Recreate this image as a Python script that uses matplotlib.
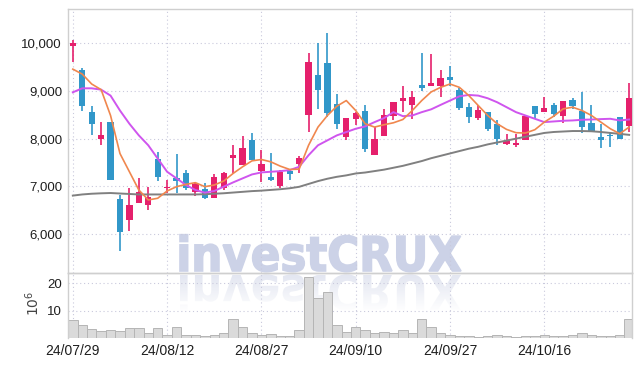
import numpy as np
import matplotlib
matplotlib.use("Agg")
import matplotlib.pyplot as plt
from matplotlib.textpath import TextPath
from matplotlib.patches import PathPatch
from matplotlib.font_manager import FontProperties
import matplotlib.transforms as mtransforms

# --- datos (60 sesiones) ---
opens = [9940, 9440, 8560, 7990, 8350, 6730, 6300, 6650, 6610, 7580,
         6960, 7180, 7270, 6875, 6940, 6765, 6975, 7600, 7444, 7965,
         7320, 7187, 7014, 7320, 7465, 8486, 9333, 9583, 8729, 8035,
         8402, 8577, 7667, 8049, 8472, 8785, 8708, 9125, 9111, 9111,
         9298, 9028, 8673, 8437, 8569, 8312, 7896, 7861, 7965, 8694,
         8556, 8708, 8472, 8812, 8577, 8326, 8035, 8069, 8452, 8257]
highs = [10060, 9490, 8690, 8350, 8350, 6820, 6960, 7170, 6990, 7720,
         7130, 7670, 7350, 7100, 7080, 7250, 7300, 7875, 8056, 8125,
         7756, 7702, 7350, 7370, 7640, 9806, 10014, 10222, 8938, 8437,
         8550, 8708, 8243, 8625, 8764, 9097, 9000, 9806, 9771, 9444,
         9514, 9070, 8750, 8700, 8569, 8396, 8104, 8104, 8465, 8694,
         8868, 8750, 8785, 8850, 8972, 8715, 8300, 8140, 8452, 9167]
lows = [9600, 8590, 8070, 7860, 7130, 5640, 6060, 6650, 6500, 7110,
        6850, 6850, 6920, 6800, 6740, 6765, 6920, 7270, 7444, 7550,
        7098, 7110, 6960, 7135, 7271, 8139, 8625, 8452, 8208, 7965,
        8277, 7723, 7667, 8049, 8382, 8556, 8420, 9006, 9111, 8868,
        9111, 8600, 8326, 8400, 8160, 7861, 7861, 7827, 7965, 8402,
        8556, 8450, 8333, 8625, 8118, 8153, 7806, 7820, 7986, 8139]
closes = [10000, 8690, 8300, 8080, 7130, 6040, 6600, 6875, 6785, 7190,
          6990, 7110, 6975, 7040, 6750, 7200, 7270, 7667, 7812, 7550,
          7465, 7132, 7292, 7256, 7597, 9618, 9028, 8542, 8313, 8437,
          8542, 7792, 8000, 8486, 8764, 8854, 8882, 9062, 9167, 9271,
          9236, 8646, 8452, 8604, 8208, 7986, 7944, 7917, 8465, 8521,
          8646, 8521, 8785, 8694, 8243, 8153, 7965, 8049, 7986, 8854]

# medias móviles (5, 20, 60 días), leídas directamente
ma5 = [9458, 9354, 9146, 9028, 8486, 7688, 7306, 6924, 6715, 6750,
       6903, 6993, 7042, 7077, 6993, 7028, 7111, 7271, 7410, 7535,
       7563, 7514, 7424, 7354, 7361, 7861, 8243, 8486, 8681, 8799,
       8590, 8313, 8243, 8292, 8333, 8402, 8590, 8799, 8980, 9076,
       9146, 9076, 8903, 8694, 8486, 8313, 8194, 8125, 8118, 8188,
       8347, 8472, 8625, 8660, 8590, 8486, 8347, 8208, 8104, 8243]
ma20 = [8972, 9056, 9056, 9028, 8903, 8590, 8313, 8069, 7861, 7583,
        7306, 7167, 7028, 6924, 6868, 6903, 6993, 7083, 7167, 7250,
        7292, 7306, 7319, 7340, 7410, 7653, 7861, 7965, 8069, 8139,
        8208, 8257, 8347, 8431, 8556, 8472, 8486, 8556, 8615, 8708,
        8799, 8889, 8917, 8903, 8847, 8764, 8660, 8556, 8486, 8417,
        8347, 8361, 8375, 8382, 8396, 8402, 8410, 8417, 8382, 8402]
ma60 = [6806, 6830, 6845, 6854, 6860, 6850, 6840, 6830, 6830, 6830,
        6830, 6830, 6830, 6830, 6835, 6845, 6855, 6870, 6885, 6900,
        6910, 6925, 6940, 6960, 6990, 7050, 7110, 7160, 7200, 7230,
        7270, 7290, 7320, 7350, 7390, 7430, 7480, 7530, 7590, 7640,
        7690, 7740, 7790, 7830, 7880, 7920, 7960, 8000, 8040, 8080,
        8120, 8140, 8150, 8160, 8160, 8155, 8140, 8120, 8100, 8080]

# volumen en millones
volumen = [6.5, 4.6, 3.1, 2.4, 2.8, 2.4, 3.5, 3.5, 2.0, 3.8,
           1.2, 4.0, 1.2, 1.2, 0.7, 1.0, 1.9, 7.1, 4.1, 1.9,
           1.2, 1.4, 0.7, 0.7, 2.8, 22.2, 14.5, 16.7, 4.6, 2.1,
           4.0, 2.8, 1.7, 2.3, 1.7, 2.8, 1.7, 6.8, 4.1, 1.7,
           1.2, 0.7, 0.7, 0.5, 0.7, 1.0, 0.7, 0.5, 0.7, 0.8,
           1.2, 0.7, 0.8, 1.0, 1.9, 1.2, 0.6, 0.6, 1.0, 6.8]

tick_idx = [0, 10, 20, 30, 40, 50]
tick_fechas = ['24/07/29', '24/08/12', '24/08/27', '24/09/10', '24/09/27', '24/10/16']
precio_ticks = [6000, 7000, 8000, 9000, 10000]
vol_ticks = [10, 20]

W, H = 642, 366
c_sube = '#e5206c'
c_baja = '#3197c9'
c_grid = '#c9c9dc'
c_borde = '#cfcfcf'
fuente = 'Liberation Sans'

fig = plt.figure(figsize=(W / 100, H / 100), dpi=100)
fig.patch.set_facecolor('white')

# --- marca de agua con reflejo (en pixeles) ---
bg = fig.add_axes([0, 0, 1, 1], zorder=-1)
bg.axis('off')
tp = TextPath((0, 0), 'investCRUX', size=1,
              prop=FontProperties(family='DejaVu Sans', weight='bold'))
bb = tp.get_extents()
sx = 281 / bb.width
sy = 37 / bb.height
t_main = mtransforms.Affine2D().translate(-bb.x0, 0).scale(sx, -sy).translate(180, 271)
t_refl = mtransforms.Affine2D().translate(-bb.x0, 0).scale(sx, sy).translate(180, 275)
bg.add_patch(PathPatch(t_main.transform_path(tp), facecolor='#ccd2e7', edgecolor='#ccd2e7',
                       linewidth=1.2))
p_refl = PathPatch(t_refl.transform_path(tp), facecolor='none', edgecolor='none')
bg.add_patch(p_refl)
grad = np.zeros((100, 2, 4))
grad[..., 0] = 0.87
grad[..., 1] = 0.885
grad[..., 2] = 0.935
grad[..., 3] = np.linspace(0.85, 0.0, 100)[:, None]
im = bg.imshow(grad, extent=(170, 470, 312, 274), aspect='auto', origin='upper')
im.set_clip_path(p_refl)
bg.set_xlim(0, W)
bg.set_ylim(H, 0)

# --- ejes ---
left, right = 68.3, 632
top, mid, bot = 9.3, 272.7, 338
ax = fig.add_axes([left / W, 1 - mid / H, (right - left) / W, (mid - top) / H])
axv = fig.add_axes([left / W, 1 - bot / H, (right - left) / W, (bot - mid) / H], sharex=ax)
for a in (ax, axv):
    a.set_facecolor('none')
    for s in a.spines.values():
        s.set_color(c_borde)
        s.set_linewidth(1)
    a.tick_params(length=0, labelsize=9.5, labelcolor='#1e1e1e', pad=4.5)
    a.grid(True, color=c_grid, linestyle=(0, (1, 2.5)), linewidth=0.8)
    a.set_axisbelow(True)
axv.spines['bottom'].set_visible(False)

x = np.arange(len(closes))
o = np.array(opens)
c = np.array(closes)
colores = np.where(c >= o, c_sube, c_baja)

ax.vlines(x, lows, highs, colors=colores, linewidth=1.2, zorder=2)
altura = np.maximum(np.abs(c - o), 18)
ax.bar(x, altura, bottom=np.minimum(o, c), width=0.66, color=colores, zorder=3)

ax.plot(x, ma60, color='#808080', linewidth=1.4, zorder=4)
ax.plot(x, ma20, color='#cf55ee', linewidth=1.4, zorder=4)
ax.plot(x, ma5, color='#f0874e', linewidth=1.2, zorder=5)

ax.set_ylim(5189, 10713)
ax.set_yticks(precio_ticks)
ax.set_yticklabels([f'{v:,}' for v in precio_ticks], family=fuente, fontsize=9.5)
ax.tick_params(axis='x', labelbottom=False)

axv.bar(x, volumen, width=1.0, color='#dadada', edgecolor='#b5b5b5', linewidth=0.7, zorder=2)
axv.set_ylim(0, 23.8)
axv.set_yticks(vol_ticks)
axv.set_yticklabels([str(v) for v in vol_ticks], family=fuente, fontsize=9.5)
axv.set_xlim(-0.48, 59.3)
axv.set_xticks(tick_idx)
axv.set_xticklabels(tick_fechas, family=fuente, fontsize=10)
axv.tick_params(axis='x', pad=4)

fig.text(32.7 / W, 1 - 303 / H, r'$10^6$', rotation=90, ha='center', va='center',
         fontsize=10, color='#444444')

fig.savefig('out.png', dpi=100)
